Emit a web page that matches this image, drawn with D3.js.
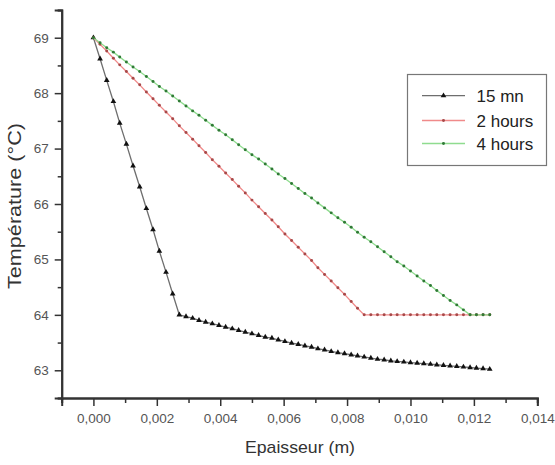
<!DOCTYPE html>
<html>
<head>
<meta charset="utf-8">
<script src="https://cdn.jsdelivr.net/npm/d3@7/dist/d3.min.js"></script>
<style>
  html, body { margin: 0; padding: 0; background: #fff; }
  svg { display: block; font-family: Arial, "Liberation Sans", sans-serif; }
</style>
</head>
<body>
<svg id="chart" width="555" height="465"></svg>
<script>
// ---- data ----
const xValues = [0, 0.00021, 0.00042, 0.00063, 0.00083, 0.00104, 0.00125, 0.00146, 0.00167, 0.00188,
  0.00208, 0.00229, 0.0025, 0.00271, 0.00292, 0.00313, 0.00333, 0.00354, 0.00375, 0.00396,
  0.00417, 0.00438, 0.00458, 0.00479, 0.005, 0.00521, 0.00542, 0.00563, 0.00583, 0.00604,
  0.00625, 0.00646, 0.00667, 0.00688, 0.00708, 0.00729, 0.0075, 0.00771, 0.00792, 0.00813,
  0.00833, 0.00854, 0.00875, 0.00896, 0.00917, 0.00938, 0.00958, 0.00979, 0.01, 0.01021,
  0.01042, 0.01063, 0.01083, 0.01104, 0.01125, 0.01146, 0.01167, 0.01188, 0.01208, 0.01229, 0.0125];

const temp15mn = [69.00, 68.62, 68.23, 67.85, 67.46, 67.08, 66.69, 66.31, 65.92, 65.54,
  65.15, 64.77, 64.38, 64.00, 63.97, 63.94, 63.90, 63.87, 63.84, 63.81,
  63.78, 63.75, 63.72, 63.69, 63.66, 63.63, 63.60, 63.58, 63.55, 63.52,
  63.49, 63.47, 63.44, 63.42, 63.39, 63.37, 63.34, 63.32, 63.30, 63.28,
  63.26, 63.24, 63.22, 63.20, 63.19, 63.17, 63.16, 63.15, 63.14, 63.13,
  63.12, 63.11, 63.10, 63.09, 63.08, 63.07, 63.06, 63.05, 63.04, 63.03, 63.02];

const temp2h = [69.00, 68.88, 68.76, 68.63, 68.51, 68.39, 68.27, 68.15, 68.02, 67.90,
  67.78, 67.66, 67.54, 67.41, 67.29, 67.17, 67.05, 66.93, 66.80, 66.68,
  66.56, 66.44, 66.32, 66.20, 66.07, 65.95, 65.83, 65.71, 65.59, 65.46,
  65.34, 65.22, 65.10, 64.98, 64.85, 64.73, 64.61, 64.49, 64.37, 64.24,
  64.12, 64.00, 64.00, 64.00, 64.00, 64.00, 64.00, 64.00, 64.00, 64.00,
  64.00, 64.00, 64.00, 64.00, 64.00, 64.00, 64.00, 64.00, 64.00, 64.00, 64.00];

const temp4h = [69.00, 68.91, 68.82, 68.74, 68.65, 68.56, 68.47, 68.39, 68.30, 68.21,
  68.12, 68.04, 67.95, 67.86, 67.77, 67.68, 67.60, 67.51, 67.42, 67.33,
  67.25, 67.16, 67.07, 66.98, 66.89, 66.81, 66.72, 66.63, 66.54, 66.46,
  66.37, 66.28, 66.19, 66.11, 66.02, 65.93, 65.84, 65.75, 65.67, 65.58,
  65.49, 65.40, 65.32, 65.23, 65.14, 65.05, 64.96, 64.88, 64.79, 64.70,
  64.61, 64.53, 64.44, 64.35, 64.26, 64.18, 64.09, 64.00, 64.00, 64.00, 64.00];

const seriesNames = ["15 mn", "2 hours", "4 hours"];
const xTicks = [0, 0.002, 0.004, 0.006, 0.008, 0.010, 0.012, 0.014];
const yTicks = [63, 64, 65, 66, 67, 68, 69];
const xDomain = [-0.001, 0.014];
const yDomain = [62.5, 69.5];

// ---- drawing ----
(function () {
const svg = d3.select("#chart");
const mLeft = 61.7, mRight = 537.3, mTop = 10, mBottom = 398;
const x = d3.scaleLinear().domain(xDomain).range([mLeft, mRight]);
const y = d3.scaleLinear().domain(yDomain).range([mBottom, mTop]);

const styles = [
  { line: "#6e6e6e", marker: "#111", shape: d3.symbolTriangle, size: 14 },
  { line: "#f08a8a", marker: "#a84848", shape: d3.symbolCircle, size: 7 },
  { line: "#8fdc8f", marker: "#2f7a35", shape: d3.symbolCircle, size: 7 }
];
const seriesData = [temp15mn, temp2h, temp4h];

const axisColor = "#333";
const labelColor = "#555";
const fmt = d => d3.format(".3f")(d).replace(".", ",");

const xAxis = d3.axisBottom(x).tickValues(xTicks).tickFormat(fmt).tickSize(8).tickPadding(7);
const xMinor = d3.axisBottom(x).tickValues(d3.range(-0.001, 0.0145, 0.002)).tickFormat("").tickSize(5);
const yAxis = d3.axisLeft(y).tickValues(yTicks).tickFormat(d3.format("d")).tickSize(7).tickPadding(6);
const yMinor = d3.axisLeft(y).tickValues(d3.range(62.5, 69.6, 1)).tickFormat("").tickSize(4);

function styleAxis(g) {
  g.select(".domain").attr("stroke", axisColor).attr("stroke-width", 2);
  g.selectAll(".tick line").attr("stroke", axisColor).attr("stroke-width", 1.5);
  g.selectAll(".tick text").attr("fill", labelColor).style("font-size", "13.5px")
    .style("font-family", "Arial, 'Liberation Sans', sans-serif");
}

svg.append("g").attr("transform", `translate(0,${mBottom})`).call(xMinor).call(styleAxis);
svg.append("g").attr("transform", `translate(0,${mBottom})`).call(xAxis).call(styleAxis);
svg.append("g").attr("transform", `translate(${mLeft},0)`).call(yMinor).call(styleAxis);
svg.append("g").attr("transform", `translate(${mLeft},0)`).call(yAxis).call(styleAxis);

svg.append("text").attr("x", 300).attr("y", 453).attr("text-anchor", "middle")
  .attr("fill", "#333").style("font-size", "17px").attr("textLength", 110)
  .attr("lengthAdjust", "spacingAndGlyphs").text("Epaisseur (m)");
svg.append("text").attr("transform", "translate(21,206) rotate(-90)").attr("text-anchor", "middle")
  .attr("fill", "#333").style("font-size", "18.5px").attr("textLength", 166)
  .attr("lengthAdjust", "spacingAndGlyphs").text("Température (°C)");

const lineGen = d3.line().x(d => x(d[0])).y(d => y(d[1]));
seriesData.forEach((vals, i) => {
  const pts = xValues.map((xv, j) => [xv, vals[j]]);
  const st = styles[i];
  svg.append("path").datum(pts).attr("d", lineGen)
    .attr("fill", "none").attr("stroke", st.line).attr("stroke-width", 1.3);
  svg.append("g").selectAll("path").data(pts).join("path")
    .attr("transform", d => `translate(${x(d[0])},${y(d[1])})`)
    .attr("d", d3.symbol().type(st.shape).size(st.size))
    .attr("fill", st.marker);
});

const lg = svg.append("g");
lg.append("rect").attr("x", 407.5).attr("y", 74.5).attr("width", 139).attr("height", 91)
  .attr("fill", "#fff").attr("stroke", "#777").attr("stroke-width", 1.2);
const legendY = [95.7, 120.5, 143.5];
seriesNames.forEach((name, i) => {
  const st = styles[i];
  lg.append("line").attr("x1", 422).attr("x2", 465).attr("y1", legendY[i]).attr("y2", legendY[i])
    .attr("stroke", st.line).attr("stroke-width", 1.3);
  lg.append("path").attr("transform", `translate(443.5,${legendY[i]})`)
    .attr("d", d3.symbol().type(st.shape).size(st.size)).attr("fill", st.marker);
  lg.append("text").attr("x", 476.5).attr("y", legendY[i] + 6).attr("fill", "#222")
    .style("font-size", "17px").text(name);
});
})();
</script>
</body>
</html>
